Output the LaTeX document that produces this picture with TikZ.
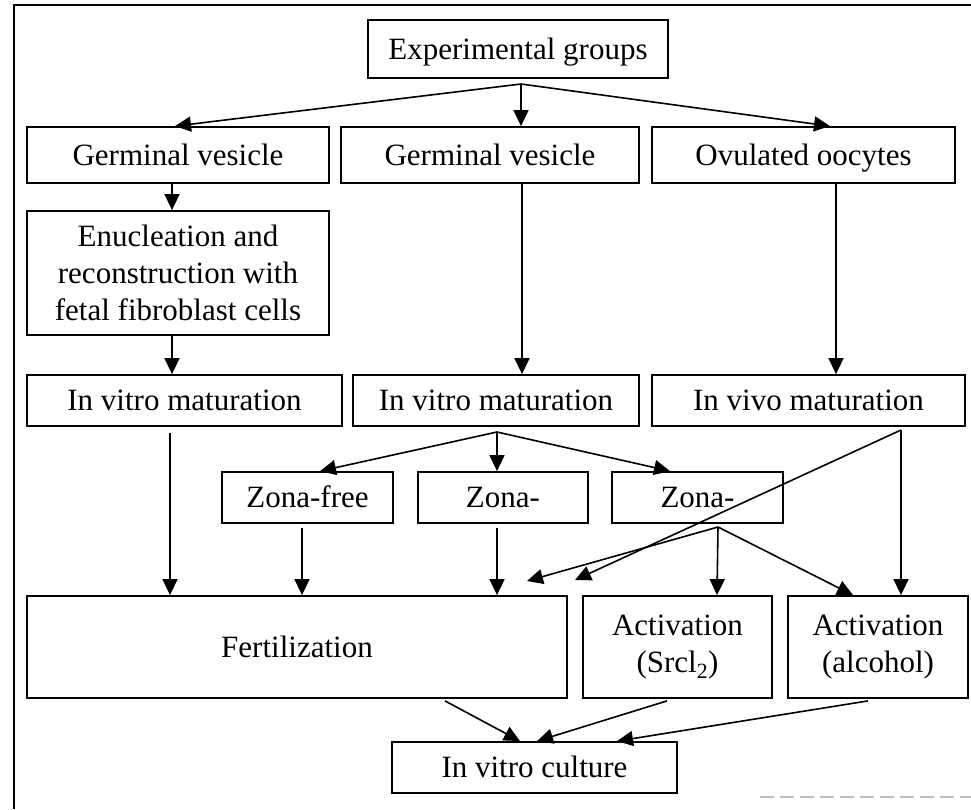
\documentclass[tikz,border=0pt]{standalone}
\usepackage{fontspec}
\setmainfont{Liberation Serif}
\usetikzlibrary{arrows.meta}
\begin{document}
\begin{tikzpicture}[x=1pt,y=-1pt,
  box/.style={draw,line width=1.8pt,inner sep=0pt,align=center,
    font=\fontsize{31}{37}\selectfont},
  one/.style={text height=20pt,text depth=0pt},
  conn/.style={line width=1.6pt,-{Triangle[length=16pt,width=15pt]}}]
\useasboundingbox (0,0) rectangle (971,809);
% page frame
\draw[line width=1.5pt] (971,5) -- (14,5) -- (14,809);
\draw[gray!50,line width=1.2pt,dash pattern=on 14pt off 6pt] (760,797) -- (971,797);
% boxes
\node[box,one,minimum width=300pt,minimum height=58pt] (exp) at (518,49) {Experimental groups};
\node[box,one,minimum width=302pt,minimum height=56pt] (gv1) at (178,155) {Germinal vesicle};
\node[box,one,minimum width=298pt,minimum height=56pt] (gv2) at (490,155) {Germinal vesicle};
\node[box,one,minimum width=303pt,minimum height=56pt] (ovu) at (803.5,155) {Ovulated oocytes};
\node[box,minimum width=302pt,minimum height=124pt] (enu) at (178,273) {Enucleation and\\reconstruction with\\fetal fibroblast cells};
\node[box,one,minimum width=315pt,minimum height=51pt] (ivm1) at (184.5,400.5) {In vitro maturation};
\node[box,one,minimum width=286pt,minimum height=51pt] (ivm2) at (496,400.5) {In vitro maturation};
\node[box,one,minimum width=313pt,minimum height=51pt] (ivv) at (808.5,400.5) {In vivo maturation};
\node[box,one,minimum width=171pt,minimum height=51pt] (zf) at (307.5,497.5) {Zona-free};
\node[box,one,minimum width=170pt,minimum height=51pt] (z1) at (503,497.5) {Zona-};
\node[box,one,minimum width=171pt,minimum height=51pt] (z2) at (697.5,497.5) {Zona-};
\node[box,one,minimum width=540pt,minimum height=102pt] (fert) at (297,647) {Fertilization};
\node[box,minimum width=189pt,minimum height=102pt] (asr) at (677.5,647) {Activation\\(Srcl\textsubscript{2})};
\node[box,minimum width=180pt,minimum height=102pt] (aal) at (878,647) {Activation\\(alcohol)};
\node[box,one,minimum width=285pt,minimum height=51pt] (ivc) at (534.5,767.5) {In vitro culture};
% fan points and free ends
\coordinate (eA) at (521,84);
\coordinate (iA) at (497,432);
\coordinate (zA) at (718,527);
\coordinate (vA) at (901,430);
\coordinate (zT) at (527,581);
\coordinate (vT) at (575,580);
% connectors
\draw[conn] (eA) -- ([xshift=-3pt]gv1.north);
\draw[conn] (eA) -- ([xshift=31pt]gv2.north);
\draw[conn] (eA) -- ([xshift=26.5pt]ovu.north);
\draw[conn] ([xshift=-6pt]gv1.south) -- ([xshift=-6pt]enu.north);
\draw[conn] ([xshift=-6pt]enu.south) -- ([xshift=-12.5pt]ivm1.north);
\draw[conn] ([xshift=32pt]gv2.south) -- ([xshift=26pt]ivm2.north);
\draw[conn] ([xshift=32.5pt]ovu.south) -- ([xshift=27.5pt]ivv.north);
\draw[conn] (iA) -- ([xshift=12.5pt]zf.north);
\draw[conn] (iA) -- ([xshift=-6pt]z1.north);
\draw[conn] (iA) -- ([xshift=-27.5pt]z2.north);
\draw[conn] ([xshift=-14.5pt,yshift=-6pt]ivm1.south) -- ([xshift=-127pt]fert.north);
\draw[conn] ([xshift=-5.5pt,yshift=-4pt]zf.south) -- ([xshift=5pt]fert.north);
\draw[conn] ([xshift=-6pt,yshift=-4pt]z1.south) -- ([xshift=200pt]fert.north);
\draw[conn] (zA) -- (zT);
\draw[conn] (zA) -- ([xshift=39.5pt]asr.north);
\draw[conn] (zA) -- ([xshift=-25pt]aal.north);
\draw[conn] (vA) -- (vT);
\draw[conn] (vA) -- ([xshift=23pt]aal.north);
\draw[conn] ([xshift=148pt,yshift=-2pt]fert.south) -- ([xshift=-14.5pt]ivc.north);
\draw[conn] ([xshift=-10.5pt,yshift=-2pt]asr.south) -- ([xshift=2.5pt]ivc.north);
\draw[conn] ([xshift=-10pt,yshift=-2pt]aal.south) -- ([xshift=82.5pt]ivc.north);
\end{tikzpicture}
\end{document}
